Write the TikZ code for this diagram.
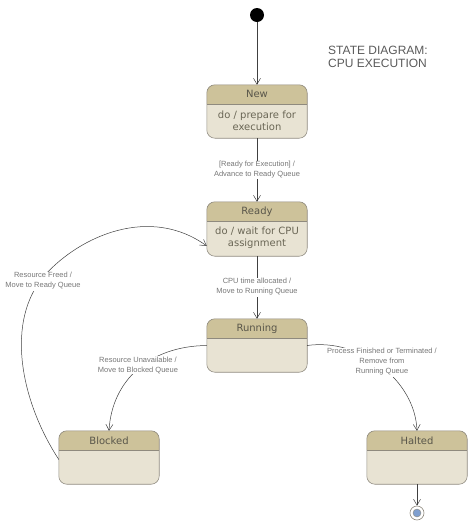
\documentclass[tikz,border=0pt]{standalone}
\usepackage{fontspec}
\setmainfont{Liberation Sans}
\newfontfamily\statefont{DejaVu Sans}
\usetikzlibrary{arrows.meta}
\definecolor{hdr}{HTML}{CDC29A}
\definecolor{bodyc}{HTML}{E8E3D3}
\definecolor{bord}{HTML}{8F8A7E}
\definecolor{stxt}{HTML}{59564A}
\definecolor{btxt}{HTML}{6A6655}
\definecolor{ltxt}{HTML}{777777}
\definecolor{edge}{HTML}{404040}
\definecolor{fin}{HTML}{7F9FCF}
\definecolor{ttl}{HTML}{5A5A5A}
\newcommand\drawstatebox[1]{%
  \begin{scope}
    \clip ([yshift=1pt]#1.north west) rectangle ([yshift=-19pt]#1.north east);
    \fill[hdr, rounded corners=8pt] (#1.north west) rectangle (#1.south east);
  \end{scope}
  \draw[bord, line width=0.6pt] ([yshift=-19pt]#1.north west) -- ([yshift=-19pt]#1.north east);
  \draw[bord, line width=0.6pt, rounded corners=8pt] (#1.north west) rectangle (#1.south east);
}
\begin{document}
\begin{tikzpicture}[x=1pt,y=-1pt,
  statebox/.style={rectangle, rounded corners=8pt, minimum width=100pt, minimum height=53pt, fill=bodyc, inner sep=0pt},
  stitle/.style={font=\statefont\fontsize{10}{12}\selectfont, text=stxt, inner sep=0pt},
  sbody/.style={font=\statefont\fontsize{10}{12}\selectfont, text=btxt, align=center, inner sep=0pt},
  lbl/.style={font=\fontsize{7.5}{10}\selectfont, text=ltxt, align=center, fill=white, inner sep=1pt},
  trans/.style={draw=edge, line width=0.5pt, -{Straight Barb[length=6pt,width=7pt]}}
]
\useasboundingbox (0,0) rectangle (476,528);

% states
\node[statebox] (new) at (257,111.5) {};
\node[statebox, minimum height=54pt] (ready) at (257,229) {};
\node[statebox] (running) at (257,345.5) {};
\node[statebox] (blocked) at (109,457.5) {};
\node[statebox] (halted) at (417,457.5) {};
\drawstatebox{new}
\drawstatebox{ready}
\drawstatebox{running}
\drawstatebox{blocked}
\drawstatebox{halted}

\node[stitle] (newt) at ([yshift=-9.5pt]new.north) {New};
\node[sbody] (newb) at (257,121) {do / prepare for\\execution};
\node[stitle] (readyt) at ([yshift=-9.5pt]ready.north) {Ready};
\node[sbody] (readyb) at (257,238) {do / wait for CPU\\assignment};
\node[stitle] (runningt) at ([yshift=-9.5pt]running.north) {Running};
\node[stitle] (blockedt) at ([yshift=-9.5pt]blocked.north) {Blocked};
\node[stitle] (haltedt) at ([yshift=-9.5pt]halted.north) {Halted};

% initial and final
\node[circle, fill=black, minimum size=14pt, inner sep=0pt] (init) at (257,15) {};
\node[circle, draw=bord, fill=white, minimum size=14pt, inner sep=0pt, line width=0.6pt] (final) at (417,513) {};
\node[circle, draw=bord, fill=fin, minimum size=8pt, inner sep=0pt, line width=0.4pt] (finalin) at (417,513) {};

% title
\node[font=\fontsize{12}{13}\selectfont, text=ttl, align=left, anchor=west, inner sep=0pt] (title) at (328,56.5) {STATE DIAGRAM:\\CPU EXECUTION};

% transitions
\draw[trans] (init) -- (new);
\draw[trans] (new) -- (ready);
\draw[trans] (ready) -- (running);
\draw[trans] (running.west) .. controls (150,346) and (112,380) .. (blocked.north);
\draw[trans] (running.east) .. controls (360,338) and (415,380) .. (halted.north);
\draw[trans] ([yshift=-2pt]blocked.west) .. controls (20,400) and (5,320) .. (45,275) .. controls (80,236) and (150,205) .. ([yshift=-17pt]ready.west);
\draw[trans] (halted) -- (final);

% labels
\node[lbl] (l1) at (257,170) {[Ready for Execution] /\\Advance to Ready Queue};
\node[lbl] (l2) at (257,287) {CPU time allocated /\\Move to Running Queue};
\node[lbl] (l3) at (43,281) {Resource Freed /\\Move to Ready Queue};
\node[lbl] (l4) at (138,365) {Resource Unavailable /\\Move to Blocked Queue};
\node[lbl] (l5) at (382,362) {Process Finished or Terminated /\\Remove from\\Running Queue};
\end{tikzpicture}
\end{document}
